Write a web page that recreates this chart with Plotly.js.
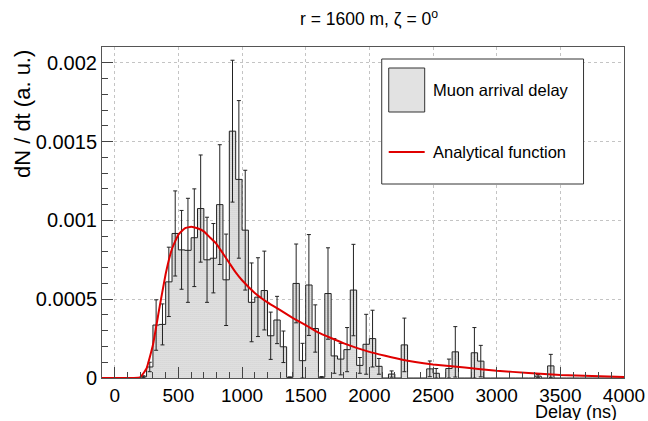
<!DOCTYPE html>
<html>
<head>
<meta charset="utf-8">
<script src="https://cdn.plot.ly/plotly-3.0.1.min.js"></script>
<style>
  html, body { margin: 0; padding: 0; background: #fff; }
  #chart { width: 648px; height: 421px; }
</style>
</head>
<body>
<div id="chart"></div>
<script>
// ---- data ----
const binWidth = 50; // ns
const binEdgesStart = 0;
const binValues = [
  0, 0, 0, 0, 0.000008, 0.00007, 0.000336, 0.00034, 0.00061, 0.000917,
  0.000813, 0.00081, 0.00089, 0.001075, 0.00075, 0.00076, 0.0011, 0.000623, 0.001566, 0.00126,
  0.000938, 0.00048, 0.000513, 0.000555, 0.000268, 0.000368, 0.000198, 0.000004, 0.0006, 0.00011,
  0.00059, 0.000314, 0.000005, 0.000536, 0.00014, 0.00012, 0.00018, 0.000558, 0.00008, 0.000214,
  0.00025, 0.000074, 0, 0.000025, 0, 0.00021, 0, 0, 0, 0.000058,
  0.00003, 0, 0.00006, 0.000166, 0, 0, 0.00016, 0.000107, 0, 0,
  0, 0, 0, 0, 0, 0, 0.000012, 0, 0.000077, 0,
  0, 0, 0, 0, 0, 0, 0, 0, 0, 0
];
const binErrors = [
  0, 0, 0, 0, 0.000006, 0.00003, 0.00016, 0.00013, 0.00022, 0.00027,
  0.00025, 0.00033, 0.00031, 0.00034, 0.00027, 0.00022, 0.00038, 0.00029, 0.00045, 0.0005,
  0.00038, 0.00025, 0.00025, 0.00025, 0.00015, 0.00015, 0.0001, 0.000003, 0.00025, 0.00011,
  0.00032, 0.00015, 0.000004, 0.00029, 0.00011, 0.0001, 0.00014, 0.00029, 0.00005, 0.00019,
  0.00018, 0.00005, 0, 0.00002, 0, 0.00017, 0, 0, 0, 0.00005,
  0.00003, 0, 0.00006, 0.00016, 0, 0, 0.00016, 0.0001, 0, 0,
  0, 0, 0, 0, 0, 0, 0.00001, 0, 0.000073, 0,
  0, 0, 0, 0, 0, 0, 0, 0, 0, 0
];
const curveX = [-100, 0, 150, 200, 250, 300, 350, 400, 450, 500, 550, 600, 650, 700, 750, 800, 850, 900, 950, 1000,
  1100, 1200, 1300, 1400, 1500, 1600, 1800, 2000, 2250, 2500, 2750, 3000, 3250, 3500, 3750, 4000];
const curveY = [0, 0, 0, 0.000004, 0.00006, 0.00021, 0.00044, 0.00066, 0.00082, 0.00091, 0.00095, 0.00096, 0.00095, 0.00093, 0.00089,
  0.00085, 0.00079, 0.00073, 0.00067, 0.00062, 0.00054, 0.00048, 0.00043, 0.00038, 0.000336, 0.000288, 0.00022,
  0.000166, 0.000117, 0.000086, 0.000066, 0.000046, 0.000032, 0.000019, 0.000012, 0.000007];
const xTickVals = [0, 500, 1000, 1500, 2000, 2500, 3000, 3500, 4000];
const xTickText = ['0', '500', '1000', '1500', '2000', '2500', '3000', '3500', '4000'];
const yTickVals = [0, 0.0005, 0.001, 0.0015, 0.002];
const yTickText = ['0', '0.0005', '0.001', '0.0015', '0.002'];
const legendLabels = ['Muon arrival delay', 'Analytical function'];

// ---- derived ----
const centers = binValues.map((_, i) => binEdgesStart + binWidth * (i + 0.5));
const edges = binValues.map((_, i) => binEdgesStart + binWidth * i).concat([binEdgesStart + binWidth * binValues.length]);
const stepY = binValues.concat([binValues[binValues.length - 1]]);
const errIdx = binValues.map((v, i) => i).filter(i => binValues[i] > 0);

const FONT = '"Liberation Sans", Arial, Helvetica, sans-serif';

const traces = [
  {
    type: 'bar', x: centers, y: binValues, width: binWidth,
    marker: {
      color: '#e4e4e4',
      line: { width: 0 },
      pattern: { shape: '.', fgcolor: '#a8a8a8', bgcolor: '#ececec', size: 2, solidity: 0.3 }
    },
    showlegend: false, hoverinfo: 'skip'
  },
  {
    type: 'scatter', mode: 'lines', x: edges, y: stepY,
    line: { shape: 'hv', color: '#222', width: 1 },
    showlegend: false, hoverinfo: 'skip'
  },
  {
    type: 'scatter', mode: 'markers',
    x: errIdx.map(i => centers[i]), y: errIdx.map(i => binValues[i]),
    marker: { size: 1, color: 'rgba(0,0,0,0)' },
    error_y: { type: 'data', array: errIdx.map(i => binErrors[i]), visible: true, color: '#222', thickness: 1, width: 2 },
    showlegend: false, hoverinfo: 'skip'
  },
  {
    type: 'scatter', mode: 'lines', x: curveX, y: curveY,
    line: { color: '#e00000', width: 2, shape: 'spline', smoothing: 0.3 },
    showlegend: false, hoverinfo: 'skip'
  }
];

// plot area in px
const L = 102, R = 624.5, T = 47, B = 378;
const W = 648, H = 421;
const px2x = p => (p - L) / (R - L);
const py2y = p => (B - p) / (B - T);

const layout = {
  width: W, height: H,
  margin: { l: L, r: W - R, t: T, b: H - B, pad: 0 },
  paper_bgcolor: '#fff', plot_bgcolor: '#fff',
  font: { family: FONT, size: 20, color: '#000' },
  showlegend: false,
  bargap: 0,
  title: {
    text: 'r = 1600 m, ζ = 0<sup>o</sup>',
    font: { family: FONT, size: 17.5, color: '#000' },
    xref: 'container', yref: 'container', x: 369 / W, y: 1 - 19 / H, xanchor: 'center', yanchor: 'middle'
  },
  xaxis: {
    range: [-100, 4000],
    tickvals: xTickVals, ticktext: xTickText,
    ticks: 'inside', ticklen: 11, tickwidth: 1, tickcolor: '#444',
    minor: { dtick: 100, ticks: 'inside', ticklen: 6, tickcolor: '#444', showgrid: false },
    showgrid: true, gridcolor: '#c4c4c4', griddash: 'dot', gridwidth: 1,
    showline: true, linecolor: '#555', linewidth: 1, mirror: true,
    zeroline: false,
    tickfont: { family: FONT, size: 19, color: '#000' }
  },
  yaxis: {
    range: [0, 0.0021],
    tickvals: yTickVals, ticktext: yTickText,
    ticks: 'inside', ticklen: 11, tickwidth: 1, tickcolor: '#444',
    minor: { dtick: 0.0001, tick0: 0, ticks: 'inside', ticklen: 6, tickcolor: '#444', showgrid: false },
    showgrid: true, gridcolor: '#c4c4c4', griddash: 'dot', gridwidth: 1,
    showline: true, linecolor: '#555', linewidth: 1, mirror: true,
    zeroline: false,
    tickfont: { family: FONT, size: 20, color: '#000' }
  },
  annotations: [
    {
      text: 'Delay (ns)', xref: 'paper', yref: 'paper',
      x: px2x(618), y: py2y(411.5), xanchor: 'right', yanchor: 'middle', showarrow: false,
      height: 17, borderpad: 0,
      font: { family: FONT, size: 18, color: '#000' }
    },
    {
      text: 'dN / dt (a. u.)', xref: 'paper', yref: 'paper', textangle: -90,
      x: px2x(22), y: py2y(48), xanchor: 'center', yanchor: 'top', showarrow: false,
      font: { family: FONT, size: 22, color: '#000' }
    },
    {
      text: legendLabels[0], xref: 'paper', yref: 'paper',
      x: px2x(431), y: py2y(90), xanchor: 'left', yanchor: 'middle', showarrow: false,
      font: { family: FONT, size: 16.5, color: '#000' }
    },
    {
      text: legendLabels[1], xref: 'paper', yref: 'paper',
      x: px2x(431), y: py2y(152), xanchor: 'left', yanchor: 'middle', showarrow: false,
      font: { family: FONT, size: 16.5, color: '#000' }
    }
  ],
  shapes: [
    { type: 'rect', xref: 'paper', yref: 'paper', x0: px2x(382), x1: px2x(584), y0: py2y(184), y1: py2y(59),
      line: { color: '#333', width: 1 }, fillcolor: '#fff', layer: 'above' },
    { type: 'rect', xref: 'paper', yref: 'paper', x0: px2x(389), x1: px2x(425), y0: py2y(112), y1: py2y(68),
      line: { color: '#333', width: 1 }, fillcolor: '#e2e2e2', layer: 'above' },
    { type: 'line', xref: 'paper', yref: 'paper', x0: px2x(389), x1: px2x(425), y0: py2y(152), y1: py2y(152),
      line: { color: '#e00000', width: 2 }, layer: 'above' }
  ]
};

Plotly.newPlot('chart', traces, layout, { staticPlot: true, displayModeBar: false });
</script>
</body>
</html>
